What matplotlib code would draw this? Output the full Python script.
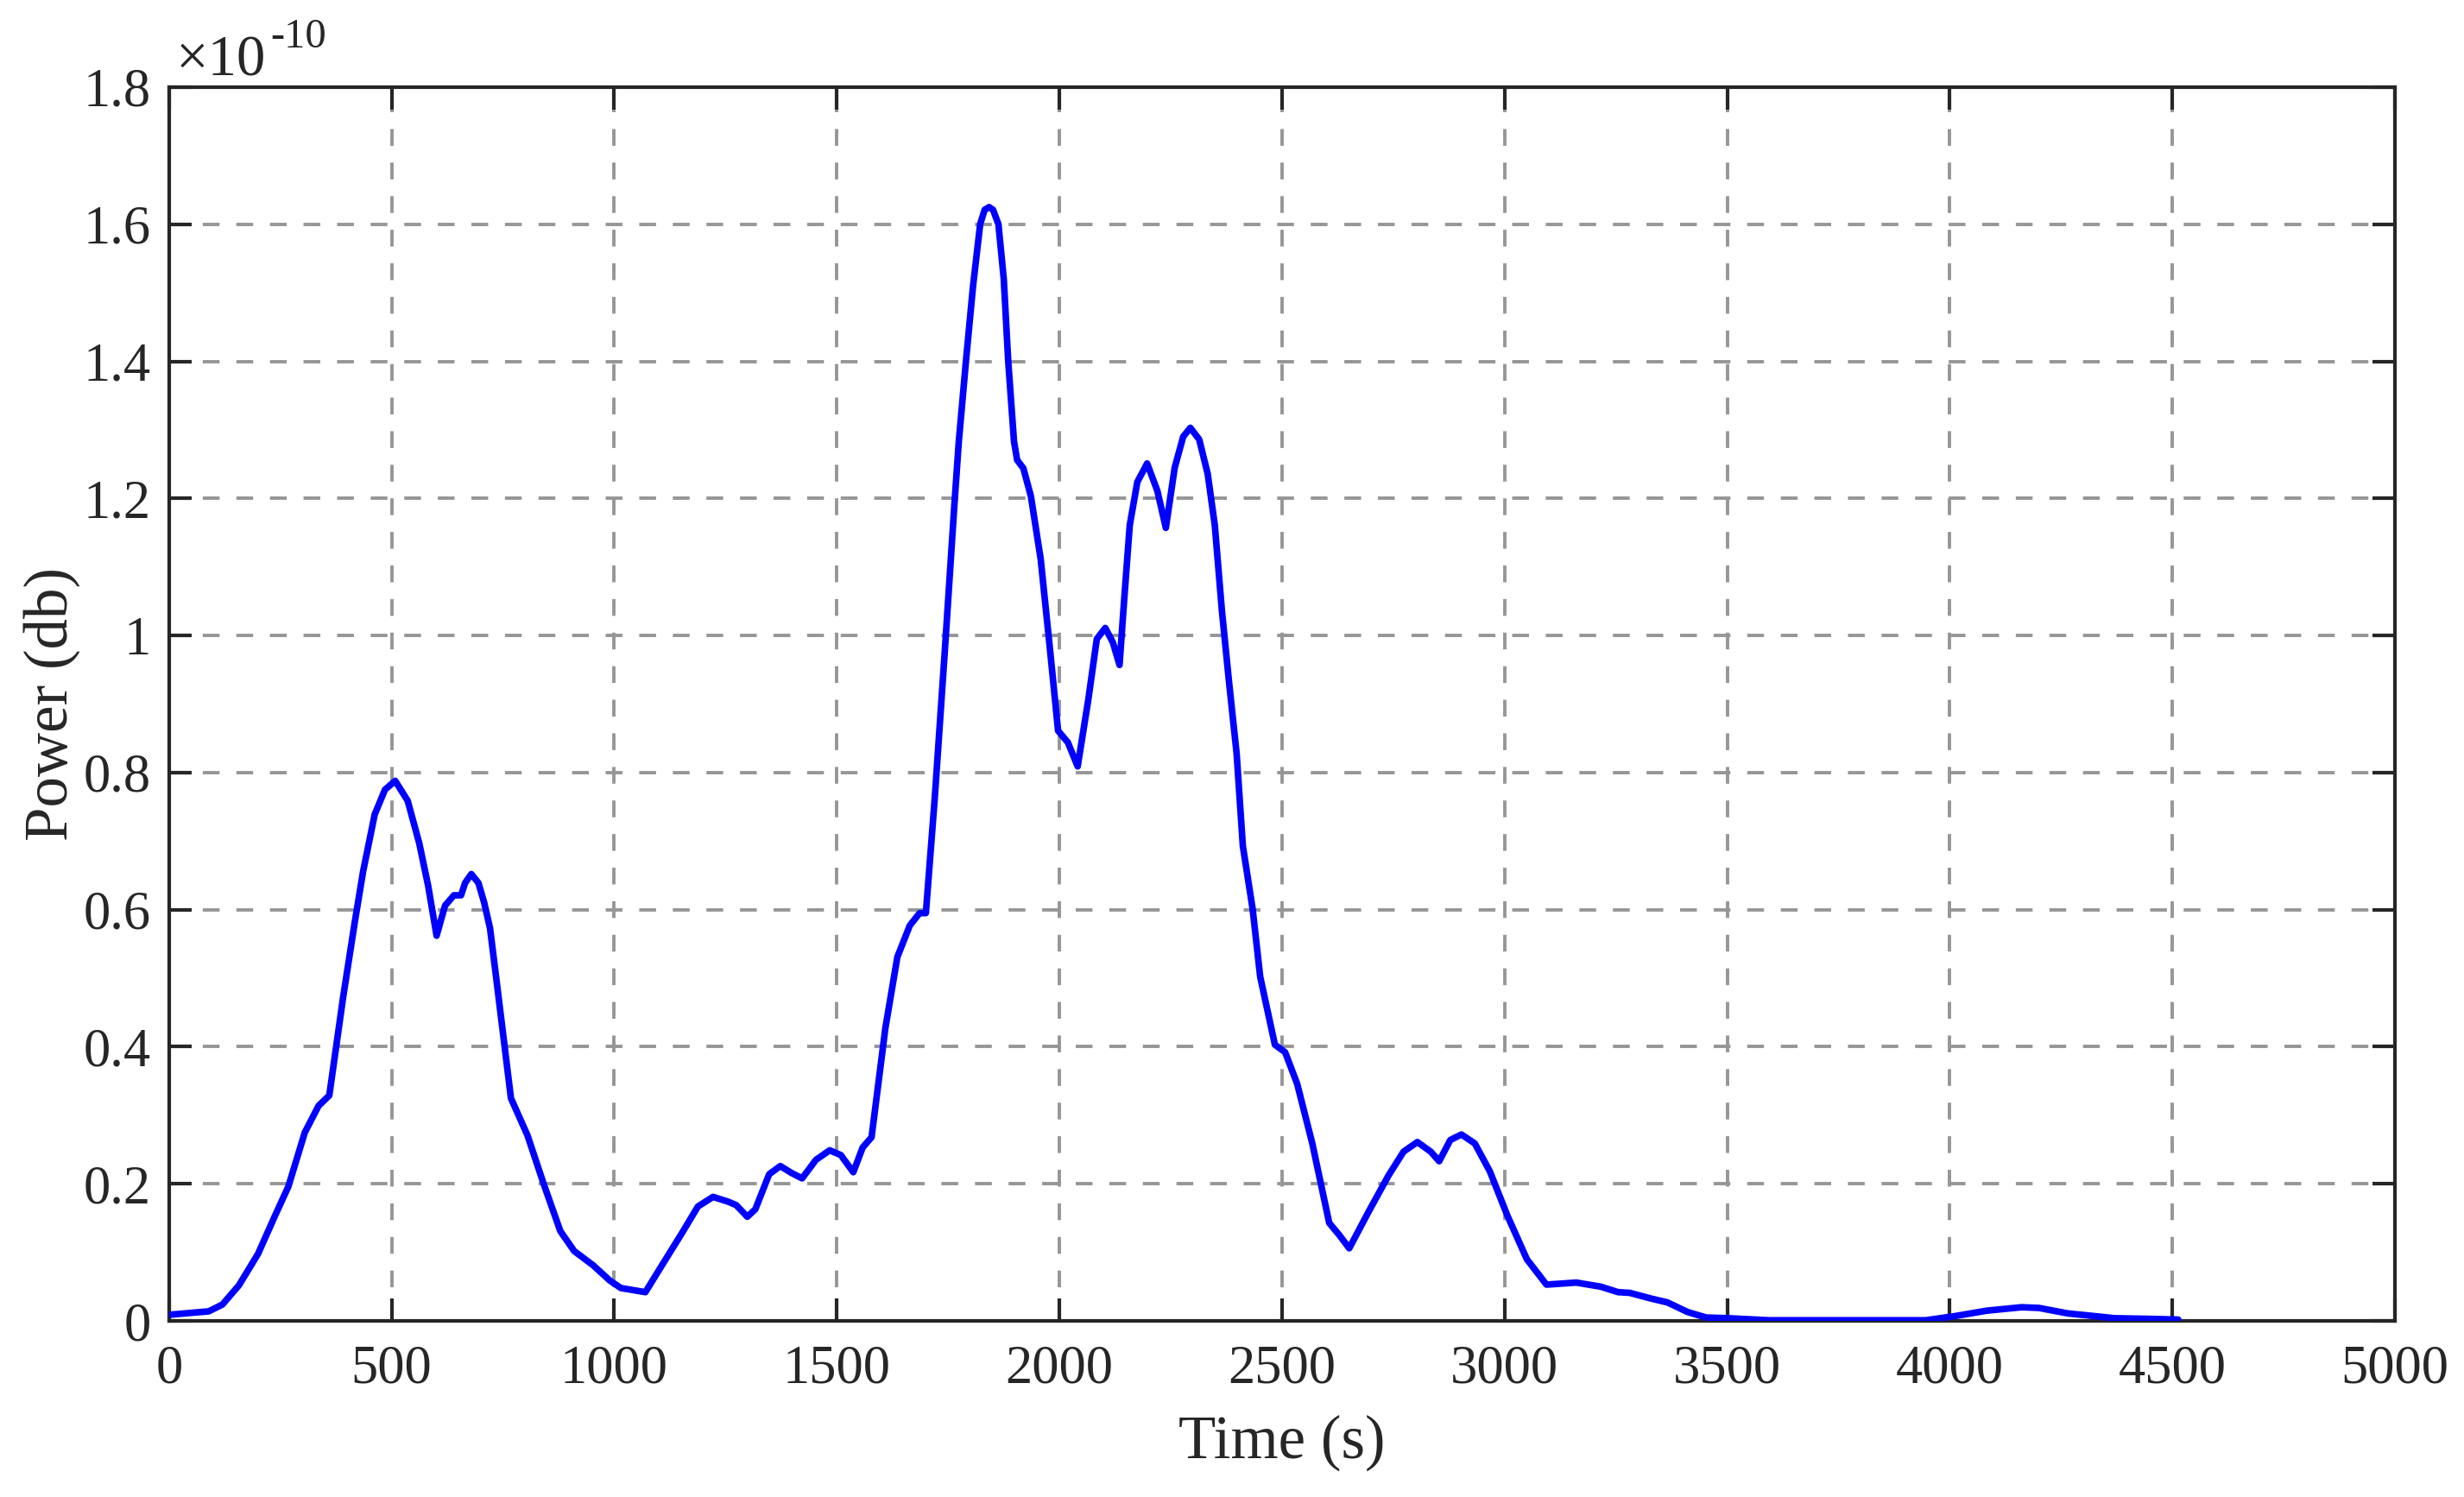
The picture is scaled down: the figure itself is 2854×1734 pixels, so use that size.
import matplotlib
matplotlib.use("Agg")
import matplotlib.pyplot as plt
from matplotlib.ticker import FuncFormatter

# Time (s)
time_s = [0, 89, 120, 157, 200, 237, 268, 305, 336, 360, 391, 417, 436, 462, 485,
          508, 536, 562, 582, 601, 620, 640, 656, 665, 679, 695, 708, 721, 735, 768,
          805, 842, 879, 910, 953, 990, 1015, 1070, 1107, 1151, 1188, 1222, 1256,
          1274, 1299, 1317, 1348, 1373, 1398, 1422, 1453, 1484, 1509, 1537, 1558,
          1578, 1609, 1636, 1664, 1686, 1700, 1720, 1742, 1764, 1774, 1790, 1806,
          1822, 1832, 1842, 1851, 1863, 1875, 1885, 1898, 1905, 1919, 1936, 1958,
          1980, 1997, 2019, 2041, 2065, 2084, 2103, 2120, 2135, 2146, 2158, 2175,
          2197, 2220, 2239, 2259, 2278, 2294, 2314, 2333, 2349, 2365, 2381, 2398,
          2412, 2434, 2451, 2484, 2507, 2534, 2568, 2606, 2629, 2651, 2695, 2739,
          2773, 2804, 2834, 2853, 2878, 2903, 2933, 2967, 3006, 3050, 3094, 3161,
          3216, 3255, 3281, 3327, 3366, 3411, 3453, 3503, 3594, 3763, 3946, 4011,
          4083, 4161, 4200, 4265, 4311, 4370, 4454, 4513]

# Power (x 1e-10)
power = [0.009, 0.014, 0.024, 0.052, 0.098, 0.152, 0.196, 0.275, 0.314, 0.329, 0.472,
         0.581, 0.656, 0.739, 0.775, 0.788, 0.759, 0.697, 0.635, 0.562, 0.606, 0.621,
         0.621, 0.639, 0.652, 0.639, 0.610, 0.573, 0.500, 0.325, 0.271, 0.199, 0.131,
         0.102, 0.081, 0.059, 0.048, 0.042, 0.081, 0.127, 0.167, 0.181, 0.174, 0.169,
         0.152, 0.163, 0.214, 0.226, 0.216, 0.208, 0.235, 0.249, 0.242, 0.217, 0.253,
         0.268, 0.427, 0.531, 0.577, 0.595, 0.595, 0.763, 0.972, 1.190, 1.283, 1.400,
         1.510, 1.600, 1.621, 1.625, 1.621, 1.600, 1.520, 1.400, 1.283, 1.256, 1.244,
         1.203, 1.111, 0.972, 0.861, 0.844, 0.809, 0.907, 0.995, 1.011, 0.990, 0.957,
         1.057, 1.161, 1.224, 1.251, 1.211, 1.157, 1.245, 1.290, 1.303, 1.286, 1.236,
         1.161, 1.036, 0.932, 0.828, 0.693, 0.601, 0.502, 0.403, 0.392, 0.346, 0.259,
         0.143, 0.125, 0.106, 0.160, 0.212, 0.247, 0.261, 0.247, 0.233, 0.264, 0.272,
         0.259, 0.218, 0.154, 0.090, 0.053, 0.056, 0.050, 0.042, 0.041, 0.033, 0.027,
         0.013, 0.005, 0.004, 0.001, 0.001, 0.001, 0.007, 0.015, 0.020, 0.019, 0.011,
         0.008, 0.004, 0.003, 0.002]

x_ticks = [0, 500, 1000, 1500, 2000, 2500, 3000, 3500, 4000, 4500, 5000]
y_ticks = [0, 0.2, 0.4, 0.6, 0.8, 1.0, 1.2, 1.4, 1.6, 1.8]

plt.rcParams['font.family'] = ['Liberation Serif', 'DejaVu Serif']

fig = plt.figure(figsize=(28.54, 17.34), dpi=100)
ax = fig.add_axes([0.0686, 0.1176, 0.9034, 0.8242])

ax.plot(time_s, power, color='#0000ff', linewidth=5.5, zorder=3,
        solid_joinstyle='round', solid_capstyle='round')

ax.set_xlim(0, 5000)
ax.set_ylim(0, 1.8)
ax.set_xticks(x_ticks)
ax.set_yticks(y_ticks)
ax.yaxis.set_major_formatter(FuncFormatter(lambda v, p: ('%g' % round(v, 2))))

ax.grid(True, color='#969696', linestyle=(0, (5, 5)), linewidth=2.8)
ax.set_axisbelow(True)

for s in ax.spines.values():
    s.set_linewidth(3.0)
    s.set_color('#262626')

ax.tick_params(axis='both', which='major', direction='in', length=19, width=3.0,
               color='#262626', labelsize=45, labelcolor='#262626',
               top=True, right=True)
ax.tick_params(axis='x', pad=20)
ax.tick_params(axis='y', pad=15)

ax.set_xlabel('Time (s)', fontsize=51, color='#262626', labelpad=16)
ax.set_ylabel('Power (db)', fontsize=51, color='#262626', labelpad=3)

# exponent label (MATLAB style)
ax.text(0.0032, 1.0091, '\u00d710', transform=ax.transAxes,
        fontsize=48, color='#262626', ha='left', va='baseline')
ax.text(0.0455, 1.032, '-10', transform=ax.transAxes,
        fontsize=35, color='#262626', ha='left', va='baseline')

fig.savefig('out.png', dpi=100)
